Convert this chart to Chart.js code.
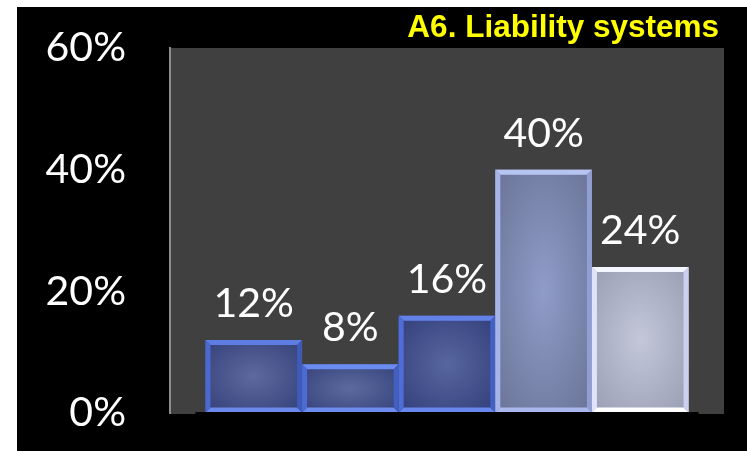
<!DOCTYPE html>
<html>
<head>
<meta charset="utf-8">
<script src="https://cdn.jsdelivr.net/npm/chart.js@4/dist/chart.umd.min.js"></script>
<style>
  html, body { margin: 0; padding: 0; background: #ffffff; }
  #wrap { width: 747px; height: 451px; position: relative; }
  canvas { display: block; }
</style>
</head>
<body>
<div id="wrap"><canvas id="chart" width="747" height="451"></canvas></div>
<script>
// ---- data ----
const chartTitle = 'A6. Liability systems';
const categories = [''];
const seriesNames = ['Option 1', 'Option 2', 'Option 3', 'Option 4', 'Option 5'];
const seriesValues = [12, 8, 16, 40, 24];
const yTickValues = [0, 20, 40, 60];

// ---- styling ----
const bevelPalette = [
  { core: '#5d6a9e', rim: '#35417a', top: '#5f7ee4', left: '#4b69cf', right: '#3f5bba', bottom: '#6b89ec' },
  { core: '#5d6a9e', rim: '#36437c', top: '#6a8bf0', left: '#4d6bd2', right: '#4260c0', bottom: '#6d8cf0' },
  { core: '#58669e', rim: '#33407c', top: '#6282ea', left: '#4f6dd6', right: '#4261c4', bottom: '#6888ee' },
  { core: '#909cc8', rim: '#6b7599', top: '#b8c4f0', left: '#a6b4e8', right: '#909ed2', bottom: '#aab8ee' },
  { core: '#c3c7d9', rim: '#9a9fb5', top: '#f4f6ff', left: '#dfe4fa', right: '#cad0ee', bottom: '#ffffff' }
];
const labelFont = '41px Lato, "Open Sans", sans-serif';
const titleFont = 'bold 31.5px "Liberation Sans", Arial, sans-serif';

// page frame, plot backdrop and the title
const frame = {
  id: 'frame',
  beforeDraw(chart) {
    const { ctx, chartArea: a, width, height } = chart;
    ctx.save();
    ctx.fillStyle = '#ffffff';
    ctx.fillRect(0, 0, width, height);
    ctx.fillStyle = '#000000';
    ctx.fillRect(17, 7, width - 17, height - 7);
    ctx.fillStyle = '#404040';
    ctx.fillRect(a.left, a.top, a.right - a.left, a.bottom - a.top + 1);
    ctx.restore();
  },
  afterDraw(chart) {
    const { ctx, chartArea: a } = chart;
    ctx.save();
    ctx.font = titleFont;
    ctx.fillStyle = '#ffff00';
    ctx.textAlign = 'right';
    ctx.textBaseline = 'alphabetic';
    ctx.fillText(chartTitle, a.right - 5, a.top - 11);
    ctx.restore();
  }
};

function poly(ctx, pts, color) {
  ctx.beginPath();
  ctx.moveTo(pts[0][0], pts[0][1]);
  for (let k = 1; k < pts.length; k++) ctx.lineTo(pts[k][0], pts[k][1]);
  ctx.closePath();
  ctx.fillStyle = color;
  ctx.fill();
}

// bevelled bar faces and value labels
const bevelBars = {
  id: 'bevelBars',
  afterDatasetsDraw(chart) {
    const ctx = chart.ctx;
    let minL = Infinity, maxR = -Infinity, baseY = 0;
    chart.data.datasets.forEach((ds, i) => {
      const meta = chart.getDatasetMeta(i);
      const p = bevelPalette[i % bevelPalette.length];
      meta.data.forEach((bar, j) => {
        const { x, y, width, base } = bar.getProps(['x', 'y', 'width', 'base'], true);
        const L = x - width / 2, R = x + width / 2, T = y, B = base;
        minL = Math.min(minL, L); maxR = Math.max(maxR, R); baseY = B;
        const w = R - L, h = B - T;
        ctx.save();
        // elliptical glow in the face
        ctx.translate((L + R) / 2, (T + B) / 2);
        ctx.scale(w / 2, h / 2);
        const g = ctx.createRadialGradient(0, 0, 0, 0, 0, 1.35);
        g.addColorStop(0, p.core);
        g.addColorStop(1, p.rim);
        ctx.fillStyle = g;
        ctx.fillRect(-1, -1, 2, 2);
        ctx.restore();

        const b = Math.min(5, h / 2);
        ctx.save();
        poly(ctx, [[L, T], [R, T], [R - b, T + b], [L + b, T + b]], p.top);
        poly(ctx, [[L, B], [R, B], [R - b, B - b], [L + b, B - b]], p.bottom);
        poly(ctx, [[L, T], [L + b, T + b], [L + b, B - b], [L, B]], p.left);
        poly(ctx, [[R, T], [R - b, T + b], [R - b, B - b], [R, B]], p.right);
        ctx.restore();

        ctx.save();
        ctx.font = labelFont;
        ctx.fillStyle = '#ffffff';
        ctx.textAlign = 'center';
        ctx.textBaseline = 'alphabetic';
        ctx.fillText(ds.data[j] + '%', x, T - 23);
        ctx.restore();
      });
    });
    // dark baseline under the bar group
    ctx.save();
    ctx.fillStyle = '#000000';
    ctx.fillRect(minL - 10, baseY - 0.5, (maxR - minL) + 20, 2);
    ctx.restore();
  }
};

function build() {
  const datasets = seriesNames.map((name, i) => ({
    label: name,
    data: [seriesValues[i]],
    backgroundColor: bevelPalette[i].core,
    borderWidth: 0
  }));

  new Chart(document.getElementById('chart'), {
    type: 'bar',
    data: { labels: categories, datasets },
    options: {
      responsive: false,
      animation: false,
      devicePixelRatio: 1,
      layout: { padding: { left: 0, top: 48, right: 23, bottom: 38 } },
      datasets: { bar: { categoryPercentage: 0.872, barPercentage: 1.0 } },
      plugins: {
        legend: { display: false },
        title: { display: false },
        tooltip: { enabled: false }
      },
      scales: {
        x: { display: false },
        y: {
          min: 0,
          max: 60,
          afterBuildTicks(scale) {
            scale.ticks = yTickValues.map(v => ({ value: v }));
          },
          afterFit(scale) { scale.width = 170; },
          ticks: {
            color: '#ffffff',
            font: { family: 'Lato, "Open Sans", sans-serif', size: 41 },
            padding: 0,
            callback: v => v + '%'
          },
          // invisible tick marks keep the labels clear of the axis line
          grid: {
            display: true,
            drawOnChartArea: false,
            drawTicks: true,
            tickLength: 44,
            color: 'rgba(0,0,0,0)'
          },
          border: { display: true, color: '#8e8e8e', width: 2 }
        }
      }
    },
    plugins: [frame, bevelBars]
  });
}

if (document.fonts && document.fonts.load) {
  Promise.all([
    document.fonts.load('41px Lato'),
    document.fonts.load('bold 31.5px "Liberation Sans"')
  ]).then(build, build);
} else {
  build();
}
</script>
</body>
</html>
